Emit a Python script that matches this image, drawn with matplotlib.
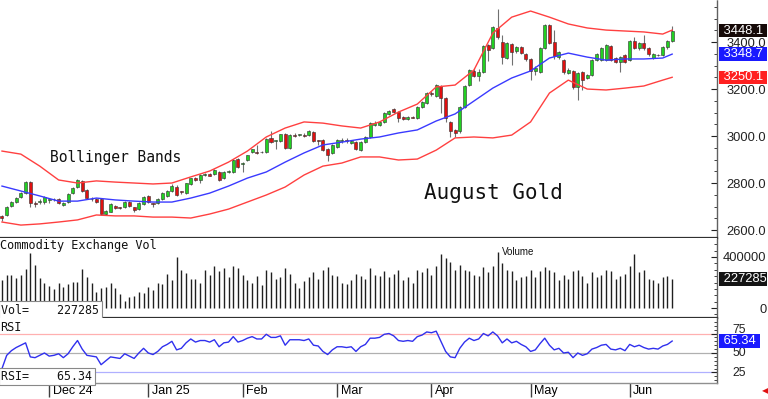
"""
August Gold daily chart with Bollinger Bands, volume and RSI panels.
"""

import numpy as np
import matplotlib
matplotlib.use("Agg")
import matplotlib.pyplot as plt
import matplotlib.transforms as mtransforms
from matplotlib.ticker import MultipleLocator

# ─────────────────────────────────────────────────────────────────────────────
# Data
# ─────────────────────────────────────────────────────────────────────────────
opens = [2658, 2662, 2703, 2720, 2740, 2757, 2804, 2716, 2720, 2720,
         2726, 2730, 2733, 2706, 2718, 2756, 2784, 2810, 2772, 2733,
         2732, 2733, 2668, 2678, 2703, 2697, 2698, 2719, 2698, 2689,
         2711, 2745, 2712, 2715, 2732, 2745, 2766, 2785, 2764, 2757,
         2796, 2822, 2813, 2836, 2839, 2838, 2848, 2820, 2848, 2847,
         2904, 2883, 2898, 2930, 2932, 2930, 2932, 2991, 2979, 2979,
         3008, 2949, 3006, 3004, 3006, 3004, 3017, 2981, 2983, 2945,
         2928, 2953, 2979, 2981, 2970, 2974, 2940, 2974, 2996, 3047,
         3047, 3060, 3094, 3115, 3102, 3081, 3074, 3081, 3077, 3123,
         3140, 3183, 3170, 3213, 3162, 3060, 3026, 3021, 3123, 3217,
         3277, 3255, 3272, 3387, 3375, 3460, 3400, 3332, 3391, 3362,
         3379, 3349, 3328, 3277, 3272, 3374, 3472, 3400, 3336, 3323,
         3268, 3277, 3208, 3272, 3247, 3260, 3323, 3323, 3323, 3383,
         3332, 3315, 3345, 3323, 3404, 3374, 3396, 3374, 3332, 3347,
         3345, 3379, 3404]
highs = [2665, 2702, 2724, 2742, 2760, 2810, 2808, 2725, 2730, 2745,
         2734, 2738, 2738, 2718, 2756, 2782, 2818, 2812, 2776, 2740,
         2736, 2736, 2686, 2715, 2708, 2700, 2722, 2722, 2700, 2718,
         2745, 2748, 2716, 2736, 2760, 2770, 2795, 2790, 2768, 2802,
         2823, 2826, 2838, 2842, 2843, 2858, 2852, 2850, 2856, 2902,
         2908, 2890, 2921, 2946, 2962, 2936, 2990, 3020, 2985, 3010,
         3012, 3008, 3012, 3008, 3012, 3026, 3021, 2985, 2986, 2948,
         2966, 2988, 2992, 2990, 2985, 2978, 2978, 3000, 3060, 3062,
         3066, 3104, 3112, 3120, 3106, 3086, 3084, 3084, 3128, 3150,
         3188, 3190, 3222, 3218, 3165, 3064, 3030, 3128, 3217, 3286,
         3290, 3285, 3388, 3392, 3468, 3540, 3428, 3402, 3396, 3385,
         3384, 3355, 3332, 3300, 3378, 3478, 3476, 3451, 3362, 3328,
         3290, 3282, 3272, 3276, 3265, 3328, 3353, 3380, 3392, 3388,
         3336, 3340, 3350, 3408, 3420, 3400, 3432, 3378, 3354, 3350,
         3385, 3410, 3470]
lows = [2640, 2658, 2698, 2715, 2735, 2752, 2700, 2700, 2712, 2712,
        2716, 2724, 2710, 2702, 2715, 2752, 2780, 2760, 2732, 2725,
        2716, 2662, 2662, 2675, 2690, 2690, 2694, 2700, 2678, 2685,
        2708, 2716, 2698, 2712, 2728, 2740, 2762, 2745, 2755, 2754,
        2792, 2808, 2798, 2830, 2828, 2834, 2810, 2816, 2842, 2843,
        2864, 2847, 2894, 2926, 2922, 2926, 2928, 2970, 2945, 2975,
        2945, 2945, 2996, 3000, 2996, 3000, 2975, 2960, 2935, 2895,
        2924, 2950, 2970, 2972, 2966, 2940, 2936, 2970, 2992, 3043,
        3043, 3055, 3090, 3098, 3060, 3068, 3068, 3075, 3074, 3118,
        3136, 3170, 3165, 3098, 3060, 2996, 2996, 3015, 3118, 3212,
        3250, 3235, 3268, 3320, 3370, 3415, 3306, 3326, 3302, 3355,
        3348, 3320, 3238, 3260, 3268, 3370, 3390, 3330, 3330, 3264,
        3262, 3200, 3153, 3196, 3242, 3255, 3318, 3318, 3318, 3318,
        3310, 3272, 3310, 3318, 3370, 3365, 3368, 3340, 3326, 3340,
        3340, 3372, 3400]
closes = [2650, 2697, 2718, 2738, 2756, 2804, 2714, 2711, 2724, 2740,
          2731, 2734, 2715, 2714, 2752, 2778, 2812, 2766, 2737, 2731,
          2720, 2668, 2680, 2710, 2695, 2693, 2719, 2702, 2685, 2714,
          2740, 2719, 2710, 2732, 2757, 2766, 2789, 2748, 2761, 2800,
          2820, 2812, 2834, 2839, 2832, 2855, 2813, 2847, 2852, 2898,
          2868, 2887, 2919, 2944, 2929, 2933, 2987, 2975, 2981, 3008,
          2949, 3004, 3002, 3006, 3002, 3021, 2979, 2978, 2940, 2919,
          2962, 2983, 2982, 2978, 2979, 2945, 2974, 2996, 3055, 3055,
          3060, 3098, 3106, 3102, 3077, 3072, 3079, 3078, 3123, 3145,
          3183, 3179, 3217, 3162, 3077, 3021, 3013, 3123, 3213, 3281,
          3255, 3272, 3383, 3366, 3464, 3421, 3336, 3396, 3357, 3379,
          3353, 3328, 3277, 3290, 3374, 3472, 3396, 3340, 3357, 3272,
          3281, 3208, 3268, 3238, 3260, 3323, 3349, 3374, 3387, 3323,
          3315, 3336, 3315, 3404, 3374, 3396, 3374, 3349, 3349, 3344,
          3379, 3404, 3448.1]

volume = [220000, 259000, 259000, 233000, 259000, 303000, 434000, 337000, 238000, 199000,
          173000, 146000, 193000, 162000, 186000, 201000, 201000, 303000, 240000, 193000,
          123000, 154000, 162000, 199000, 154000, 107000, 55000, 84000, 97000, 123000,
          115000, 162000, 141000, 199000, 188000, 264000, 220000, 397000, 298000, 272000,
          227000, 227000, 199000, 300000, 260000, 330000, 290000, 310000, 240000, 330000,
          310000, 260000, 220000, 200000, 250000, 180000, 300000, 280000, 230000, 240000,
          310000, 270000, 200000, 160000, 210000, 240000, 280000, 230000, 300000, 320000,
          260000, 250000, 200000, 190000, 220000, 270000, 250000, 230000, 310000, 260000,
          250000, 290000, 240000, 270000, 300000, 220000, 240000, 200000, 300000, 280000,
          310000, 260000, 330000, 420000, 390000, 360000, 300000, 340000, 300000, 290000,
          260000, 250000, 320000, 280000, 330000, 440000, 350000, 300000, 290000, 220000,
          240000, 250000, 300000, 240000, 290000, 320000, 300000, 280000, 220000, 260000,
          230000, 290000, 300000, 250000, 200000, 280000, 240000, 260000, 300000, 290000,
          230000, 250000, 270000, 330000, 420000, 280000, 300000, 230000, 220000, 200000,
          240000, 250000, 227285]

rsi = [30, 47, 53, 57, 60, 63, 45, 44, 47, 50,
       46, 47, 49, 44, 49, 58, 66, 55, 47, 46,
       45, 35, 40, 45, 44, 43, 49, 46, 43, 50,
       56, 50, 48, 52, 58, 61, 65, 54, 56, 63,
       68, 64, 66, 66, 64, 67, 58, 63, 64, 71,
       64, 66, 69, 71, 68, 68, 74, 70, 70, 72,
       60, 67, 67, 67, 66, 68, 60, 59, 52, 48,
       54, 58, 58, 57, 58, 52, 58, 61, 69, 69,
       70, 74, 75, 72, 66, 65, 66, 65, 71, 73,
       77, 76, 78, 65, 52, 45, 44, 56, 64, 69,
       66, 68, 75, 72, 77, 72, 63, 68, 63, 65,
       61, 58, 52, 54, 62, 69, 60, 54, 56, 50,
       51, 44, 50, 47, 49, 55, 57, 60, 61, 55,
       54, 56, 53, 61, 58, 60, 57, 55, 56, 55,
       59, 61, 65.34]

# Bollinger band readings, every fourth bar
band_idx = [0, 4, 8, 12, 16, 20, 24, 28, 32, 36, 40, 44, 48, 52, 56, 60, 64, 68, 72,
            76, 80, 84, 88, 92, 96, 100, 104, 108, 112, 116, 120, 124, 128, 132,
            136, 140, 142]
band_upper = [2936, 2923, 2872, 2813, 2800, 2809, 2804, 2800, 2796, 2800, 2826, 2851,
              2889, 2936, 2996, 3034, 3060, 3055, 3043, 3034, 3060, 3102, 3136, 3209,
              3217, 3281, 3438, 3506, 3532, 3506, 3477, 3460, 3451, 3447, 3443, 3434,
              3451]
band_mid = [2787, 2766, 2745, 2723, 2723, 2736, 2728, 2723, 2719, 2719, 2736, 2757,
            2787, 2821, 2847, 2889, 2928, 2962, 2974, 2987, 2996, 3013, 3026, 3064,
            3094, 3149, 3204, 3247, 3277, 3332, 3353, 3336, 3323, 3328, 3328, 3332,
            3348.7]
band_lower = [2634, 2621, 2626, 2634, 2643, 2664, 2660, 2660, 2655, 2655, 2651, 2668,
              2689, 2719, 2749, 2783, 2834, 2872, 2885, 2911, 2911, 2898, 2902, 2940,
              2992, 2996, 2992, 3004, 3060, 3183, 3238, 3200, 3196, 3204, 3213, 3238,
              3250.1]

month_idx = [10, 31, 51, 71, 91, 112, 133]
month_labels = ["Dec 24", "Jan 25", "Feb", "Mar", "Apr", "May", "Jun"]

# ─────────────────────────────────────────────────────────────────────────────
# Colours
# ─────────────────────────────────────────────────────────────────────────────
BULL = "#22d022"
BEAR = "#e01010"
WICK = "#707070"
BAND_RED = "#ff4040"
BAND_BLUE = "#3a3aff"
SEP = "#303030"
AXIS = "#606060"

W, H = 768, 399
X_LIM = (-0.42, 151.5)
TICK_FS = 9.3

plt.rcParams["font.family"] = ["Liberation Sans", "DejaVu Sans"]
MONO = "DejaVu Sans Mono"


def px_axes(fig, top, bottom, right=717):
    return fig.add_axes([0, 1 - bottom / H, right / W, (bottom - top) / H])


def style_axes(ax, bottom_color=SEP, bottom_lw=1.6):
    for side in ("left", "top"):
        ax.spines[side].set_visible(False)
    ax.spines["bottom"].set_color(bottom_color)
    ax.spines["bottom"].set_linewidth(bottom_lw)
    ax.spines["right"].set_color(AXIS)
    ax.spines["right"].set_linestyle((0, (1, 1)))
    ax.spines["right"].set_linewidth(1.0)
    ax.yaxis.tick_right()
    ax.tick_params(axis="y", which="both", direction="in", colors="#222222",
                   labelsize=TICK_FS)
    ax.tick_params(axis="y", which="major", length=4)
    ax.tick_params(axis="y", which="minor", length=2)
    ax.tick_params(axis="x", which="both", bottom=False, labelbottom=False)
    ax.set_xlim(*X_LIM)


def value_box(ax, y, text, face, tail=" "):
    """Coloured last-value tag hanging off the right axis."""
    tr = mtransforms.blended_transform_factory(ax.transAxes, ax.transData)
    ax.annotate(f" {text}{tail}", xy=(1.0, y), xycoords=tr, xytext=(2.0, 0),
                textcoords="offset points", ha="left", va="center",
                fontsize=TICK_FS, color="white", annotation_clip=False, zorder=8,
                bbox=dict(boxstyle="square,pad=0.05", facecolor=face,
                          edgecolor="none"))


def draw_candles(ax):
    xs = np.arange(len(closes))
    o = np.asarray(opens, float)
    c = np.asarray(closes, float)
    ax.vlines(xs, lows, highs, color=WICK, linewidth=0.8, zorder=2)
    bull = c >= o
    bottom = np.minimum(o, c)
    height = np.maximum(np.abs(c - o), 3.0)
    ax.bar(xs, height, bottom=bottom, width=0.64,
           color=np.where(bull, BULL, BEAR), edgecolor="#303030",
           linewidth=0.4, zorder=3)


fig = plt.figure(figsize=(W / 100, H / 100), dpi=100, facecolor="white")

# ── Price panel ──────────────────────────────────────────────────────────────
ax = px_axes(fig, 0, 238)
style_axes(ax)
draw_candles(ax)
ax.plot(band_idx, band_upper, color=BAND_RED, linewidth=1.0, zorder=4)
ax.plot(band_idx, band_lower, color=BAND_RED, linewidth=1.0, zorder=4)
ax.plot(band_idx, band_mid, color=BAND_BLUE, linewidth=1.0, zorder=4)
ax.set_ylim(2566, 3579)
ax.set_yticks([2600, 2800, 3000, 3200, 3400])
ax.yaxis.set_major_formatter(matplotlib.ticker.FuncFormatter(lambda v, _: f"{v:.1f}"))
ax.yaxis.set_minor_locator(MultipleLocator(50))
ax.tick_params(axis="y", pad=7)
ax.text(0.07, 0.34, "Bollinger Bands", transform=ax.transAxes, family=MONO,
        fontsize=10.5, va="center", ha="left", color="#111111")
ax.text(0.592, 0.19, "August Gold", transform=ax.transAxes, family=MONO,
        fontsize=15, va="center", ha="left", color="#111111")
value_box(ax, closes[-1], f"{closes[-1]:.1f}", "#160a08")
value_box(ax, band_mid[-1], f"{band_mid[-1]:.1f}", "#1a1aff")
value_box(ax, band_lower[-1], f"{band_lower[-1]:.1f}", "#ff2020")

# ── Volume panel ─────────────────────────────────────────────────────────────
axv = px_axes(fig, 238, 318)
style_axes(axv)
axv.vlines(np.arange(len(volume)), 0, volume, color="#202020", linewidth=1.0)
axv.set_ylim(-78400, 549000)
axv.set_yticks([0, 400000])
axv.set_yticklabels(["0", "400000"])
axv.yaxis.set_minor_locator(MultipleLocator(50000))
axv.tick_params(axis="y", pad=35.5)
for lab in axv.get_yticklabels():
    lab.set_ha("right")
axv.text(0.0, 0.9, "Commodity Exchange Vol", transform=axv.transAxes, family=MONO,
         fontsize=8.6, va="center", ha="left", color="#111111")
axv.text(0.70, 0.83, "Volume", transform=axv.transAxes, fontsize=7,
         va="center", ha="left", color="#111111")
axv.text(0.002, 0.1, f"Vol=    {volume[-1]:d}", transform=axv.transAxes, family=MONO,
         fontsize=8.4, va="center", ha="left", color="#111111", zorder=6,
         bbox=dict(boxstyle="square,pad=0.2", facecolor="white", edgecolor="#888888",
                   linewidth=0.8))
value_box(axv, volume[-1], f"{volume[-1]:d}", "#141414", tail="")

# ── RSI panel ────────────────────────────────────────────────────────────────
axr = px_axes(fig, 318, 383)
style_axes(axr, bottom_color="#909090", bottom_lw=1.0)
axr.axhline(75, color="#ffb0b0", linewidth=0.9, zorder=1)
axr.axhline(50, color="#b0b0b0", linewidth=0.9, zorder=1)
axr.axhline(25, color="#b0b0ff", linewidth=0.9, zorder=1)
axr.plot(np.arange(len(rsi)), rsi, color="#3030ee", linewidth=1.0, zorder=3)
axr.set_ylim(11.5, 94.9)
axr.set_yticks([25, 50, 75])
axr.yaxis.set_minor_locator(MultipleLocator(5))
axr.tick_params(axis="y", pad=11, labelsize=8.8)
# 75 sits just above the RSI tag, the others a hair above their lines
for lab, lift_pt in zip(axr.get_yticklabels(), (1.0, 1.0, 3.6)):
    lift = mtransforms.ScaledTranslation(0, lift_pt / 72, fig.dpi_scale_trans)
    lab.set_transform(lab.get_transform() + lift)
axr.text(0.0, 0.86, "RSI", transform=axr.transAxes, family=MONO,
         fontsize=8.6, va="center", ha="left", color="#111111")
axr.text(0.002, 0.1, f"RSI=    {rsi[-1]:.2f}", transform=axr.transAxes, family=MONO,
         fontsize=8.4, va="center", ha="left", color="#111111", zorder=6,
         bbox=dict(boxstyle="square,pad=0.2", facecolor="white", edgecolor="#888888",
                   linewidth=0.8))
value_box(axr, rsi[-1], f"{rsi[-1]:.2f}", "#1a1aff")

# ── Month axis ───────────────────────────────────────────────────────────────
axr.set_xticks(month_idx)
axr.set_xticklabels(month_labels)
axr.tick_params(axis="x", which="major", bottom=True, labelbottom=True,
                direction="out", length=10, width=1.0, color="#404040",
                pad=-8.6, labelsize=9)
offset = mtransforms.ScaledTranslation(2.5 / 72, 0, fig.dpi_scale_trans)
for lab in axr.get_xticklabels():
    lab.set_ha("left")
    lab.set_transform(lab.get_transform() + offset)

fig.text(765 / W, 1 - 392 / H, "◀", color="#e01010", fontsize=6,
         ha="center", va="center")

fig.savefig("out.png", dpi=100, facecolor="white")
